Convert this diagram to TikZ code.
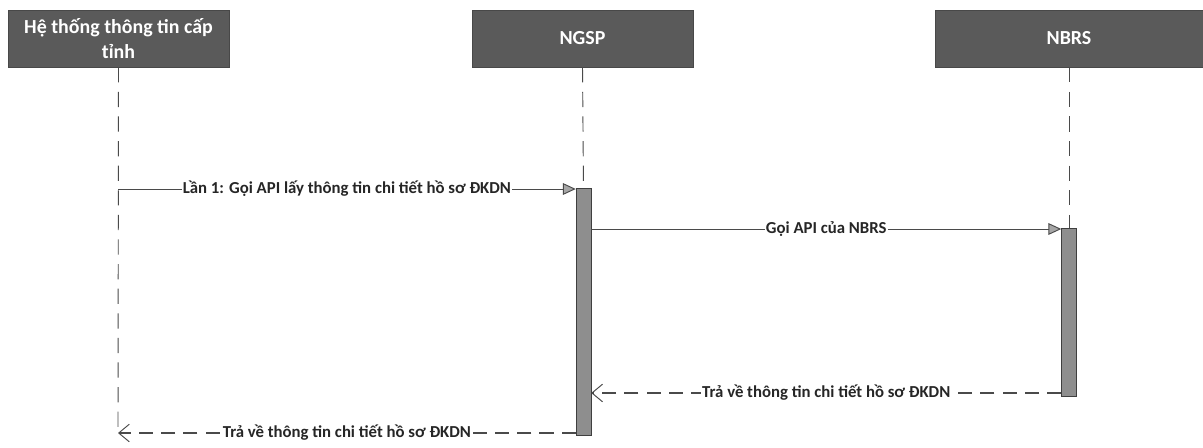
\documentclass[tikz,border=0pt]{standalone}
\usepackage{fontspec}
\setmainfont{Carlito}
\usetikzlibrary{arrows.meta,positioning}
\definecolor{headgray}{HTML}{5A5A5A}
\definecolor{bargray}{HTML}{8E8E8E}
\definecolor{linegray}{HTML}{4A4A4A}
\begin{document}
\begin{tikzpicture}[x=0.03cm,y=-0.03cm,
   head/.style={draw=headgray!80!black,fill=headgray,text=white,font=\bfseries\fontsize{17}{21}\selectfont,
                align=center,minimum width=6.63cm,minimum height=1.71cm,inner sep=2pt},
   lifeline/.style={draw=linegray,line width=0.8pt,dash pattern=on 13pt off 8pt},
   actbar/.style={draw=headgray!70!black,fill=bargray,minimum width=0.45cm,inner sep=0pt},
   call/.style={draw=linegray,line width=0.8pt,-{Triangle[length=11pt,width=10pt,fill=gray!70]}},
   reply/.style={draw=linegray,line width=0.9pt,dash pattern=on 12pt off 7pt,
                -{Straight Barb[length=9pt,width=15pt,line width=0.8pt]}},
   msg/.style={fill=white,inner sep=1pt,text=black!85,font=\bfseries\fontsize{14.3}{16}\selectfont}]
   \useasboundingbox (0,0) rectangle (1203,448);
   % participants
   \node[head] (prov) at (118.5,38.5) {Hệ thống thông tin cấp\\tỉnh};
   \node[head] (ngsp) at (582.5,38.5) {NGSP};
   \node[head,minimum width=8.04cm] (nbrs) at (1069,38.5) {NBRS};
   % lifelines
   \coordinate (provend) at (118,433);
   \coordinate (ngsptop) at (583.5,188);
   \coordinate (nbrstop) at (1069,228);
   \path[lifeline] (prov.south) -- (provend);
   \path[lifeline] (ngsp.south) -- (ngsptop);
   \path[lifeline] (nbrs.south) -- (nbrstop);
   % activations
   \node[actbar,minimum height=7.41cm] (ngspbar) at (583.5,311.5) {};
   \node[actbar,minimum height=5.04cm] (nbrsbar) at (1069,312) {};
   % messages
   \coordinate (ask) at (118,189);
   \coordinate (fwd) at (583,229);
   \coordinate (back) at (1069,393);
   \path[call] (ask) -- node[msg] {Lần 1: Gọi API lấy thông tin chi tiết hồ sơ ĐKDN} (ask -| ngspbar.west);
   \path[call] (fwd -| ngspbar.east) -- node[msg] {Gọi API của NBRS} (fwd -| nbrsbar.west);
   \path[reply] (back -| nbrsbar.west) -- node[msg] {Trả về thông tin chi tiết hồ sơ ĐKDN} (back -| ngspbar.east);
   \path[reply] (provend -| ngspbar.west) -- node[msg] {Trả về thông tin chi tiết hồ sơ ĐKDN} (provend);
\end{tikzpicture}
\end{document}
